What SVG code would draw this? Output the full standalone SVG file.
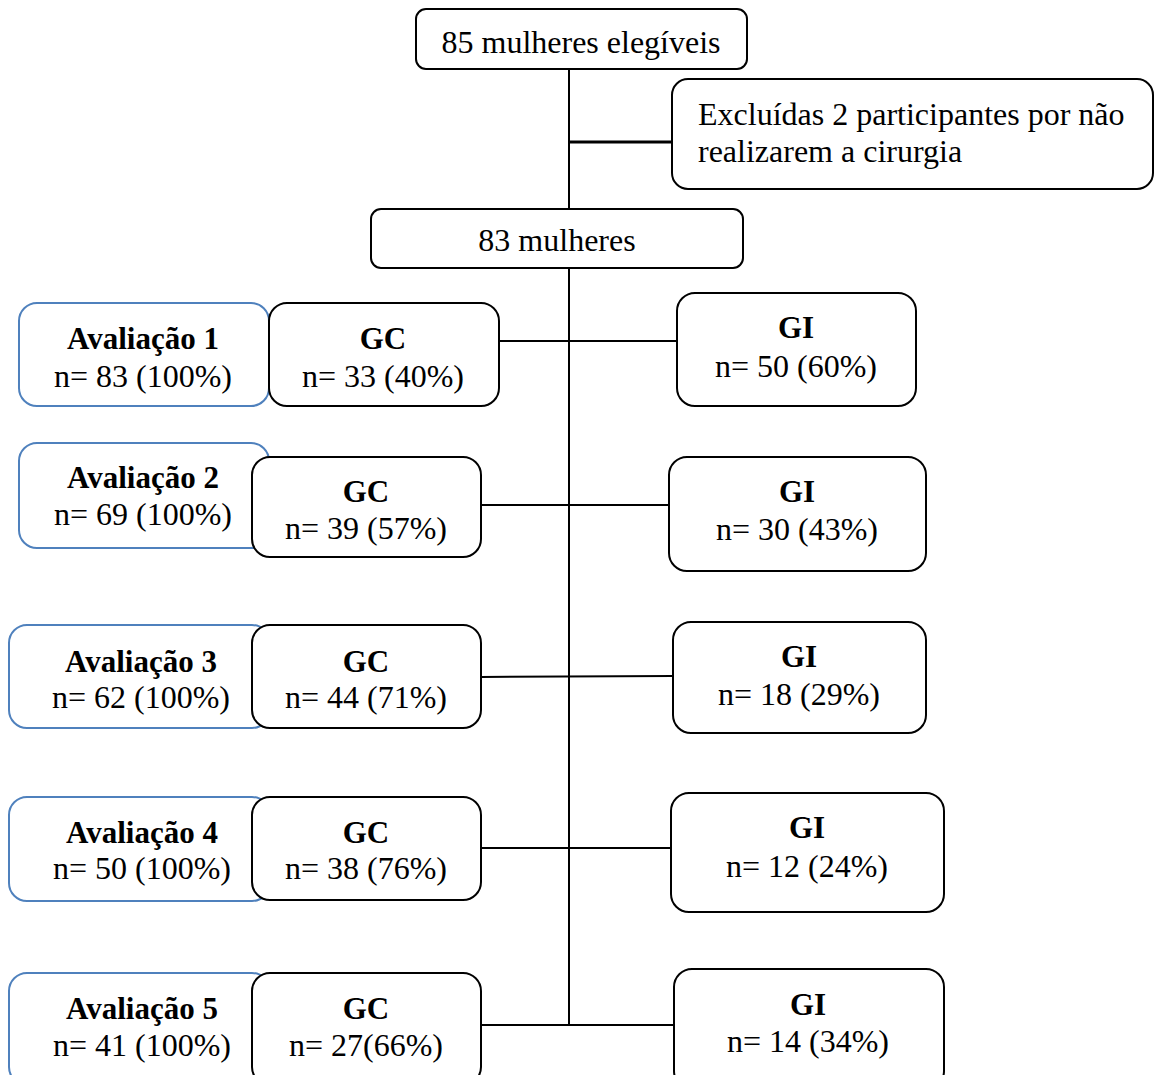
<svg xmlns="http://www.w3.org/2000/svg" width="1154" height="1075" viewBox="0 0 1154 1075">
<style>
.box{fill:#fff;stroke:#000;stroke-width:2}
.blue{fill:#fff;stroke:#4F81BD;stroke-width:2}
.conn{stroke:#000;stroke-width:2;fill:none}
text{font-family:"Liberation Serif","Times New Roman",serif;font-size:32px;fill:#000}
.c{text-anchor:middle}
.b{font-weight:bold;font-size:31px}
</style>
<rect width="1154" height="1075" fill="#fff"/>
<g id="connectors">
<line class="conn" x1="569" y1="69" x2="569" y2="209"/>
<line class="conn" x1="569" y1="142" x2="672" y2="142" style="stroke-width:3"/>
<line class="conn" x1="569" y1="268" x2="569" y2="1025"/>
<line class="conn" x1="499" y1="341" x2="677" y2="341"/>
<line class="conn" x1="481" y1="505" x2="669" y2="505"/>
<line class="conn" x1="481" y1="677" x2="673" y2="676"/>
<line class="conn" x1="481" y1="848" x2="671" y2="848"/>
<line class="conn" x1="481" y1="1025" x2="674" y2="1025"/>
</g>
<g id="elegiveis">
<rect class="box" x="416" y="9" width="331" height="60" rx="10"/>
<text class="c" x="581" y="53">85 mulheres elegíveis</text>
</g>
<g id="excluidas">
<rect class="box" x="672" y="79" width="481" height="110" rx="16"/>
<text x="698" y="125">Excluídas 2 participantes por não</text>
<text x="698" y="162">realizarem a cirurgia</text>
</g>
<g id="mulheres83">
<rect class="box" x="371" y="209" width="372" height="59" rx="10"/>
<text class="c" x="557" y="251">83 mulheres</text>
</g>
<g id="av1">
<rect class="blue" x="19" y="303" width="250" height="103" rx="18"/>
<text class="c b" x="143" y="349">Avaliação 1</text>
<text class="c" x="143" y="387">n= 83 (100%)</text>
</g>
<g id="gc1">
<rect class="box" x="269" y="303" width="230" height="103" rx="18"/>
<text class="c b" x="383" y="349">GC</text>
<text class="c" x="383" y="387">n= 33 (40%)</text>
</g>
<g id="gi1">
<rect class="box" x="677" y="293" width="239" height="113" rx="18"/>
<text class="c b" x="796" y="338">GI</text>
<text class="c" x="796" y="377">n= 50 (60%)</text>
</g>
<g id="av2">
<rect class="blue" x="19" y="443" width="250" height="105" rx="18"/>
<text class="c b" x="143" y="488">Avaliação 2</text>
<text class="c" x="143" y="525">n= 69 (100%)</text>
</g>
<g id="gc2">
<rect class="box" x="252" y="457" width="229" height="100" rx="18"/>
<text class="c b" x="366" y="502">GC</text>
<text class="c" x="366" y="539">n= 39 (57%)</text>
</g>
<g id="gi2">
<rect class="box" x="669" y="457" width="257" height="114" rx="18"/>
<text class="c b" x="797" y="502">GI</text>
<text class="c" x="797" y="540">n= 30 (43%)</text>
</g>
<g id="av3">
<rect class="blue" x="9" y="625" width="261" height="103" rx="18"/>
<text class="c b" x="141" y="672">Avaliação 3</text>
<text class="c" x="141" y="708">n= 62 (100%)</text>
</g>
<g id="gc3">
<rect class="box" x="252" y="625" width="229" height="103" rx="18"/>
<text class="c b" x="366" y="672">GC</text>
<text class="c" x="366" y="708">n= 44 (71%)</text>
</g>
<g id="gi3">
<rect class="box" x="673" y="622" width="253" height="111" rx="18"/>
<text class="c b" x="799" y="667">GI</text>
<text class="c" x="799" y="705">n= 18 (29%)</text>
</g>
<g id="av4">
<rect class="blue" x="9" y="797" width="261" height="104" rx="18"/>
<text class="c b" x="142" y="843">Avaliação 4</text>
<text class="c" x="142" y="879">n= 50 (100%)</text>
</g>
<g id="gc4">
<rect class="box" x="252" y="797" width="229" height="103" rx="18"/>
<text class="c b" x="366" y="843">GC</text>
<text class="c" x="366" y="879">n= 38 (76%)</text>
</g>
<g id="gi4">
<rect class="box" x="671" y="793" width="273" height="119" rx="18"/>
<text class="c b" x="807" y="838">GI</text>
<text class="c" x="807" y="877">n= 12 (24%)</text>
</g>
<g id="av5">
<rect class="blue" x="9" y="973" width="261" height="112" rx="18"/>
<text class="c b" x="142" y="1019">Avaliação 5</text>
<text class="c" x="142" y="1056">n= 41 (100%)</text>
</g>
<g id="gc5">
<rect class="box" x="252" y="973" width="229" height="112" rx="18"/>
<text class="c b" x="366" y="1019">GC</text>
<text class="c" x="366" y="1056">n= 27(66%)</text>
</g>
<g id="gi5">
<rect class="box" x="674" y="969" width="270" height="120" rx="18"/>
<text class="c b" x="808" y="1015">GI</text>
<text class="c" x="808" y="1052">n= 14 (34%)</text>
</g>
</svg>
